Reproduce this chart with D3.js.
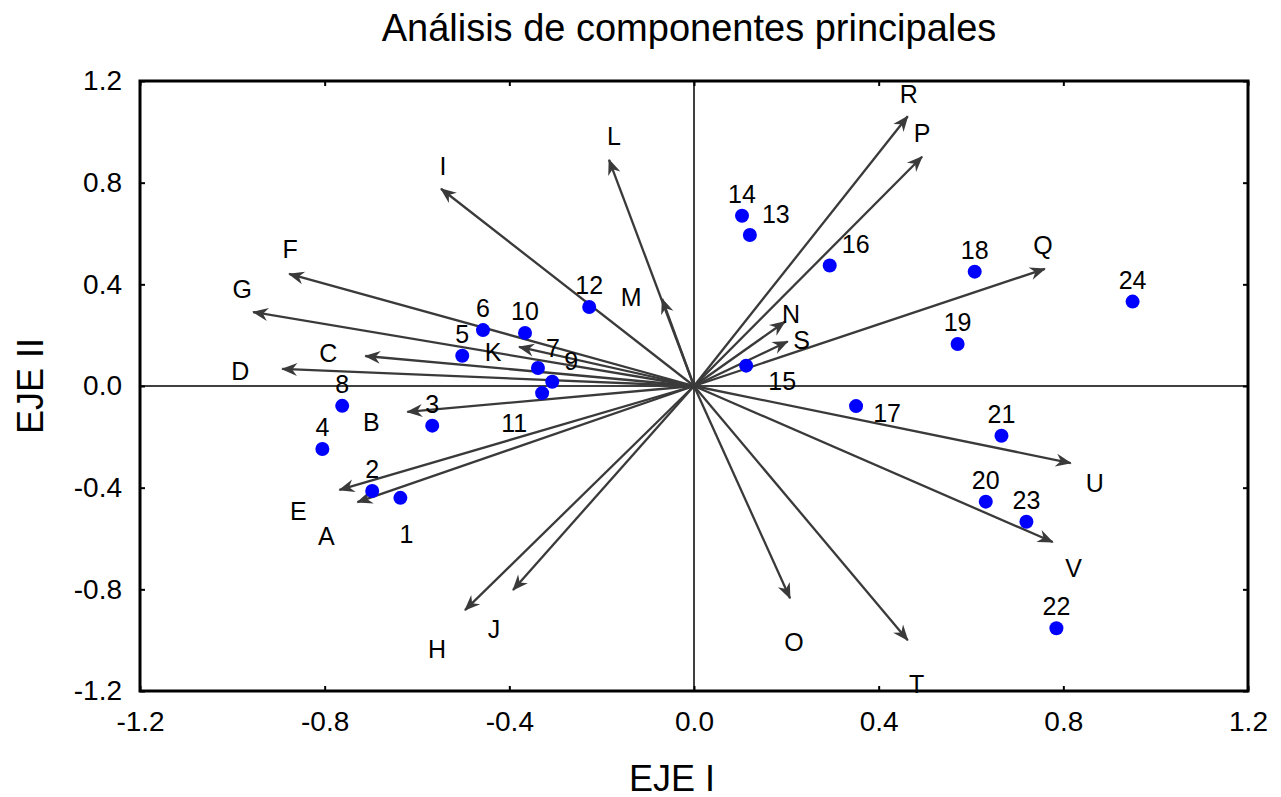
<!DOCTYPE html>
<html>
<head>
<meta charset="utf-8">
<script src="https://cdn.jsdelivr.net/npm/d3@7/dist/d3.min.js"></script>
<style>
  body { margin: 0; background: #fff; }
  text { font-family: "Liberation Sans", Arial, sans-serif; fill: #000; }
</style>
</head>
<body>
<svg id="chart" width="1281" height="797"></svg>
<script>
// variable loadings (arrows)
var varNames = ["A","B","C","D","E","F","G","H","I","J","K","L","M","N","O","P","Q","R","S","T","U","V"];
var varX = [-0.729,-0.621,-0.712,-0.892,-0.768,-0.877,-0.955,-0.496,-0.548,-0.392,-0.379,-0.184,-0.069,0.197,0.208,0.494,0.760,0.463,0.203,0.463,0.816,0.777];
var varY = [-0.457,-0.102,0.118,0.067,-0.409,0.441,0.291,-0.882,0.776,-0.803,0.154,0.890,0.343,0.253,-0.835,0.902,0.461,1.061,0.175,-1.000,-0.303,-0.614];

// cases (points)
var caseIds = ["1","2","3","4","5","6","7","8","9","10","11","12","13","14","15","16","17","18","19","20","21","22","23","24"];
var caseX = [-0.636,-0.697,-0.567,-0.805,-0.502,-0.457,-0.338,-0.762,-0.307,-0.366,-0.329,-0.227,0.121,0.104,0.113,0.294,0.351,0.608,0.571,0.632,0.666,0.785,0.720,0.950];
var caseY = [-0.440,-0.413,-0.156,-0.248,0.119,0.220,0.071,-0.078,0.017,0.209,-0.028,0.311,0.594,0.670,0.080,0.474,-0.079,0.450,0.165,-0.455,-0.196,-0.953,-0.534,0.332];

var tickValues = [-1.2,-0.8,-0.4,0.0,0.4,0.8,1.2];

// label placement (pixel offsets from the mark)
var varLabelOffset = {
  A:[-31,34], B:[-36,10], C:[-37,-3], D:[-42,2], E:[-41,21], F:[1,-25], G:[-11,-23],
  H:[-28,39], I:[2,-23], J:[-19,39], K:[-26,5], L:[5,-24], M:[-31,-2], N:[6,-8],
  O:[4,44], P:[0,-24], Q:[-2,-24], R:[1,-22], S:[14,-2], T:[9,44], U:[24,20], V:[21,26]
};
var caseLabelOffset = { "1":[6,36], "7":[15,-20], "9":[19,-21], "11":[-28,30], "13":[26,-21],
  "15":[36,15], "16":[26,-22], "17":[31,7] };

var svg = d3.select("#chart");
var x = d3.scaleLinear().domain([-1.2, 1.2]).range([140, 1248]);
var y = d3.scaleLinear().domain([-1.2, 1.2]).range([691, 81]);

svg.append("defs").append("marker")
  .attr("id", "head")
  .attr("markerUnits", "userSpaceOnUse")
  .attr("viewBox", "-16 -8 18 16")
  .attr("refX", 0).attr("refY", 0)
  .attr("markerWidth", 18).attr("markerHeight", 16)
  .attr("orient", "auto")
  .append("path")
  .attr("d", "M1,0 L-15,-6.5 L-10,0 L-15,6.5 Z")
  .style("fill", "#3a3a3a");

// zero lines
svg.append("line").attr("x1", x(-1.2)).attr("x2", x(1.2)).attr("y1", y(0)).attr("y2", y(0))
  .style("stroke", "#000").style("stroke-width", 1.5);
svg.append("line").attr("x1", x(0)).attr("x2", x(0)).attr("y1", y(-1.2)).attr("y2", y(1.2))
  .style("stroke", "#000").style("stroke-width", 1.5);

// arrows
var vars = varNames.map(function(n, i){ return {name: n, x: varX[i], y: varY[i]}; });
svg.selectAll(".arrow").data(vars).enter().append("line")
  .attr("class", "arrow")
  .attr("x1", x(0)).attr("y1", y(0))
  .attr("x2", function(d){ return x(d.x); })
  .attr("y2", function(d){ return y(d.y); })
  .style("stroke", "#3a3a3a").style("stroke-width", 2.3)
  .attr("marker-end", "url(#head)");

svg.selectAll(".varLabel").data(vars).enter().append("text")
  .attr("x", function(d){ return x(d.x) + varLabelOffset[d.name][0]; })
  .attr("y", function(d){ return y(d.y) + varLabelOffset[d.name][1]; })
  .attr("text-anchor", "middle")
  .attr("dominant-baseline", "central")
  .style("font-size", "25px")
  .text(function(d){ return d.name; });

// points
var cases = caseIds.map(function(n, i){ return {id: n, x: caseX[i], y: caseY[i]}; });
svg.selectAll(".pt").data(cases).enter().append("circle")
  .attr("cx", function(d){ return x(d.x); })
  .attr("cy", function(d){ return y(d.y); })
  .attr("r", 7)
  .style("fill", "#0000ff");

svg.selectAll(".caseLabel").data(cases).enter().append("text")
  .attr("x", function(d){ var o = caseLabelOffset[d.id] || [0,-22]; return x(d.x) + o[0]; })
  .attr("y", function(d){ var o = caseLabelOffset[d.id] || [0,-22]; return y(d.y) + o[1]; })
  .attr("text-anchor", "middle")
  .attr("dominant-baseline", "central")
  .style("font-size", "25px")
  .text(function(d){ return d.id; });

// axes: inward ticks on all sides
var fmt = d3.formatLocale({decimal: ".", thousands: ",", grouping: [3], currency: ["", ""], minus: "-"}).format(".1f");
function styleAxis(g){
  g.select(".domain").remove();
  g.selectAll(".tick line").style("stroke", "#000").style("stroke-width", 2);
  g.selectAll(".tick text").style("font-size", "28px").style("fill", "#000")
    .style("font-family", "Liberation Sans, Arial, sans-serif");
}
svg.append("g").attr("transform", "translate(0," + y(-1.2) + ")")
  .call(d3.axisBottom(x).tickValues(tickValues).tickFormat(fmt).tickSizeInner(-5).tickSizeOuter(0).tickPadding(20))
  .call(styleAxis);
svg.append("g").attr("transform", "translate(0," + y(1.2) + ")")
  .call(d3.axisTop(x).tickValues(tickValues).tickFormat("").tickSizeInner(-5).tickSizeOuter(0))
  .call(styleAxis);
svg.append("g").attr("transform", "translate(" + x(-1.2) + ",0)")
  .call(d3.axisLeft(y).tickValues(tickValues).tickFormat(fmt).tickSizeInner(-5).tickSizeOuter(0).tickPadding(18))
  .call(styleAxis);
svg.append("g").attr("transform", "translate(" + x(1.2) + ",0)")
  .call(d3.axisRight(y).tickValues(tickValues).tickFormat("").tickSizeInner(-5).tickSizeOuter(0))
  .call(styleAxis);

// frame
svg.append("rect")
  .attr("x", x(-1.2)).attr("y", y(1.2))
  .attr("width", x(1.2) - x(-1.2)).attr("height", y(-1.2) - y(1.2))
  .style("fill", "none").style("stroke", "#000").style("stroke-width", 3);

// titles
svg.append("text").attr("x", 689).attr("y", 28)
  .attr("text-anchor", "middle").attr("dominant-baseline", "central")
  .style("font-size", "38px").text("Análisis de componentes principales");
svg.append("text").attr("x", 672).attr("y", 778)
  .attr("text-anchor", "middle").attr("dominant-baseline", "central")
  .style("font-size", "36px").text("EJE I");
svg.append("text").attr("transform", "translate(30,386) rotate(-90)")
  .attr("text-anchor", "middle").attr("dominant-baseline", "central")
  .style("font-size", "36px").text("EJE II");
</script>
</body>
</html>
